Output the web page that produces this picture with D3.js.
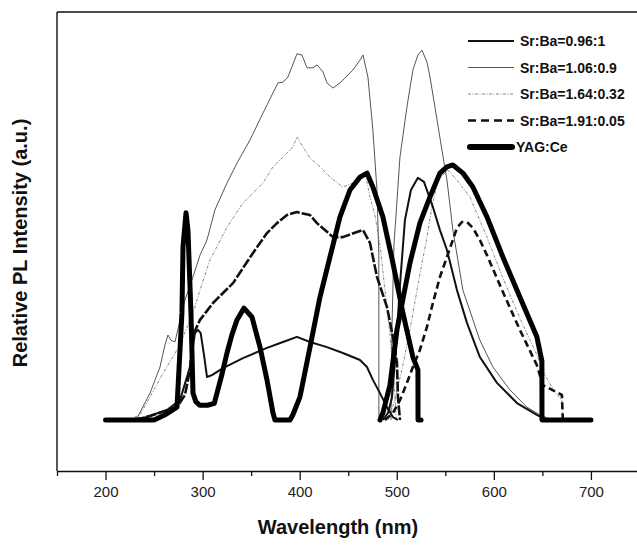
<!DOCTYPE html>
<html>
<head>
<meta charset="utf-8">
<script src="https://cdn.jsdelivr.net/npm/d3@7"></script>
<style>
  body { margin: 0; background: #fff; }
  #chart { width: 637px; height: 545px; }
  text { font-family: "Liberation Sans", Arial, sans-serif; }
  .tick-label { font-size: 15px; fill: #222; }
  .axis-title { font-size: 20px; font-weight: bold; fill: #111; }
  .legend-label { font-size: 14px; font-weight: bold; fill: #111; }
</style>
</head>
<body>
<div id="chart"></div>
<script>
// chart static params
const chart_width = 637;
const chart_height = 545;
const x_label = 'Wavelength (nm)';
const y_label = 'Relative PL Intensity (a.u.)';

// tick values (nm)
const majorTicks = [200, 300, 400, 500, 600, 700];
const minorTicks = [150, 250, 350, 450, 550, 650, 750];

// series names (legend order)
const seriesNames = ['Sr:Ba=0.96:1', 'Sr:Ba=1.06:0.9', 'Sr:Ba=1.64:0.32', 'Sr:Ba=1.91:0.05', 'YAG:Ce'];

// spectra: [wavelength nm, intensity a.u.], excitation + emission parts
const exc096 = [[221,0],[238.6,0.5],[263.3,2.7],[276.7,5.4],[287,14.4],[292.1,23.6],[295.2,24.5],[298,23.6],[301.4,17.7],[304.5,11.7],[309.6,12.2],[321,14.1],[341.6,16.8],[366.3,19.6],[382.8,21.2],[397.2,22.6],[410.6,21.2],[428.1,19.8],[444.5,18.2],[462.1,16.3],[469.3,14.4],[475.4,10.9],[482.7,7.3],[489.9,3.5],[496,0.8],[501,0]];
const em096 = [[485.7,0],[490.9,1.9],[495,6],[499.1,19],[503.3,36.7],[508.4,54.3],[514.6,62.5],[521.8,65.8],[528,64.7],[537.2,57.9],[544.5,51.6],[551.7,46.2],[562,35.3],[572.3,26.4],[585.6,17.1],[603.2,10.1],[623.8,4.6],[644.3,1.4],[654.6,0]];

const exc106 = [[220,0],[232.4,0.5],[245.8,7.3],[256.1,14.4],[261.2,20.4],[264.3,23.1],[267.4,21.7],[271.5,21.2],[281.8,32.6],[290.1,38.9],[297.3,44.8],[304.5,48.9],[312.7,57.1],[325.1,64.4],[335.4,69.8],[348.8,76.1],[362.2,83.4],[371.4,88.3],[377.6,91.6],[382.8,91.8],[387.9,93.2],[397.2,99.5],[402.3,99.2],[407.5,95.7],[413.7,95.7],[417.8,96.5],[424,94.6],[428.1,91.6],[434.3,90.2],[441.5,91.6],[454.8,95.1],[462.1,97.8],[465.2,99.2],[470.3,93.2],[475.4,78.8],[479.6,62.5],[481.5,45],[481.6,0]];
const em106 = [[494,0],[495,24.5],[497.1,47.6],[503.3,71.5],[510.5,85.1],[516.6,95.1],[521.8,99.2],[525.9,100.5],[531.1,97.3],[534.2,93.2],[539.3,85.1],[546.5,73.4],[551.7,65.2],[557.8,51.6],[568.1,35.3],[585.6,21.7],[599,14.4],[616.5,8.2],[634,3.5],[647.4,1.4],[659.8,0]];

const exc164 = [[223,0],[235.5,1.4],[245.8,6.3],[261.2,13.6],[276.7,20.4],[287,27.2],[292.1,30.7],[297.3,35.3],[307.6,43.5],[325.1,52.4],[341.6,59],[351.9,61.7],[362.2,64.4],[372.5,68.8],[382.8,71.5],[393.1,74.2],[397.2,76.9],[400.3,75.5],[410.6,71.2],[420.9,68.8],[431.2,66],[444.5,63.3],[454.8,64.4],[467.2,67.4],[472.4,60.6],[477.5,55.7],[482.7,47.6],[487.8,35.3],[493,23.1],[497.1,10.9],[499.5,0]];
const em164 = [[490.9,0],[498.1,5.4],[506.3,14.9],[513.6,24.5],[521.8,36.7],[531.1,49.7],[536.2,57.9],[542.4,65.2],[552.7,67.9],[562,65.2],[575.4,60.6],[592.9,49.7],[609.3,38.6],[626.8,27.7],[644.3,17.7],[652.6,12.2],[662.9,7.6],[670.1,5.4],[671.1,0]];

const exc191 = [[230.3,0],[245.8,1.1],[273.6,3.5],[281.8,6.8],[287,13.6],[290.1,23.1],[297.3,27.2],[310.7,31.8],[331.3,37.2],[351.9,45.4],[366.3,50.8],[376.6,53.5],[386.9,55.7],[397.2,56.5],[410.6,55.7],[417.8,53.5],[434.3,49.7],[444.5,49.7],[459,51.1],[465.2,51.6],[472.4,48.1],[479.6,38.9],[489.9,30.7],[496,22.6],[500.2,15.5],[501.2,6.3],[503.3,0]];
const em191 = [[487.8,0],[496,1.9],[503.3,5.4],[510.5,10.1],[516.6,14.4],[523.8,19],[531.1,25.3],[537.2,31.8],[544.5,38.9],[551.7,44.3],[562,52.2],[567.1,53.8],[572.3,53.8],[578.4,52.2],[585.6,48.9],[592.9,44.8],[609.3,34.8],[626.8,24.5],[644.3,14.9],[650.5,9.5],[670.1,6.8],[671.1,0]];

const yagExc = [[200,0],[250,0],[262,1.5],[273.6,3.5],[278.7,29.1],[279.8,47],[282.9,56.3],[284.9,51.6],[288,29.1],[290.1,7.3],[293,5],[297,4],[305,4],[312,4.5],[314.8,7.3],[320,12.5],[325.1,18.2],[330,23],[335.4,27.2],[342.6,30.4],[350.8,28],[359.1,19.8],[366.3,10.9],[372.5,1.9],[374.5,0],[390,0],[393.1,1.5],[400.3,6.3],[410.6,19.8],[420.9,33.4],[431.2,44.3],[441.5,55.2],[451.8,62.5],[462.1,66],[469.3,67.1],[475.4,63.3],[485.7,55.2],[496,42.7],[506.3,29.1],[516.6,17.1],[521.8,13.6],[521.9,0],[525,0]];
const yagEm = [[482.7,0],[485.7,1.9],[493,9.5],[500.2,24.5],[513.6,42.7],[523.8,53.5],[534.2,60.6],[544.5,67.1],[551.7,68.8],[557.8,69.3],[568.1,67.1],[578.4,63.3],[592.9,55.2],[609.3,44.3],[626.8,33.4],[644.3,22.6],[649.5,16],[649.6,0],[700,0]];

// line styles per series (dash given for [excitation, emission])
const styles = {
  'Sr:Ba=0.96:1':    {stroke: '#111', width: 2,   dash: [null, null],                   legendDash: null,          cap: 'butt'},
  'Sr:Ba=1.06:0.9':  {stroke: '#555', width: 1,   dash: [null, null],                   legendDash: null,          cap: 'butt'},
  'Sr:Ba=1.64:0.32': {stroke: '#888', width: 1,   dash: ['3,1.5,1,1.5', '3,1.5,1,1.5'], legendDash: '3,1.5,1,1.5', cap: 'butt'},
  'Sr:Ba=1.91:0.05': {stroke: '#111', width: 2.6, dash: ['10,2', '7,4'],                legendDash: '8,5',         cap: 'butt'},
  'YAG:Ce':          {stroke: '#000', width: 5,   dash: [null, null],                   legendDash: null,          cap: 'round'}
};
const seriesData = {
  'Sr:Ba=0.96:1': [exc096, em096],
  'Sr:Ba=1.06:0.9': [exc106, em106],
  'Sr:Ba=1.64:0.32': [exc164, em164],
  'Sr:Ba=1.91:0.05': [exc191, em191],
  'YAG:Ce': [yagExc, yagEm]
};

// plot frame
const margin = {top: 12, left: 57, bottom: 74};
const plot_right = 688;   // frame continues past the right edge of the picture
const plot_bottom = chart_height - margin.bottom;

const svg = d3.select('#chart')
  .append('svg')
    .attr('width', chart_width)
    .attr('height', chart_height);

const x = d3.scaleLinear().domain([150, 800]).range([margin.left, plot_right]);
const y = d3.scaleLinear().domain([-13.86, 110.87]).range([plot_bottom, margin.top]);

// top border + left axis line
svg.append('line')
  .attr('x1', margin.left).attr('x2', plot_right)
  .attr('y1', margin.top).attr('y2', margin.top)
  .attr('stroke', '#111').attr('stroke-width', 1.4);
svg.append('line')
  .attr('x1', margin.left).attr('x2', margin.left)
  .attr('y1', margin.top).attr('y2', plot_bottom)
  .attr('stroke', '#111').attr('stroke-width', 1.4);

// x axis, major ticks with labels
const xAxis = svg.append('g')
  .attr('transform', `translate(0,${plot_bottom})`)
  .call(d3.axisBottom(x).tickValues(majorTicks).tickSize(9).tickPadding(6).tickSizeOuter(0));
xAxis.select('.domain').attr('stroke', '#111').attr('stroke-width', 1.5);
xAxis.selectAll('.tick line').attr('stroke', '#111').attr('stroke-width', 1.3);
xAxis.selectAll('.tick text').attr('class', 'tick-label').attr('font-family', null).attr('font-size', null);

// minor ticks
svg.append('g')
  .attr('transform', `translate(0,${plot_bottom})`)
  .call(d3.axisBottom(x).tickValues(minorTicks).tickSize(5).tickFormat(''))
  .call(g => g.select('.domain').remove())
  .selectAll('.tick line').attr('stroke', '#111').attr('stroke-width', 1.3);

// axis titles
svg.append('text')
  .attr('class', 'axis-title')
  .attr('text-anchor', 'middle')
  .attr('transform', `translate(27, 243) rotate(-90)`)
  .text(y_label);
svg.append('text')
  .attr('class', 'axis-title')
  .attr('text-anchor', 'middle')
  .attr('x', 338)
  .attr('y', 534)
  .text(x_label);

// curves
const line = d3.line().x(d => x(d[0])).y(d => y(d[1]));
const curveArea = svg.append('g');
const drawOrder = ['Sr:Ba=1.64:0.32', 'Sr:Ba=1.06:0.9', 'Sr:Ba=0.96:1', 'Sr:Ba=1.91:0.05', 'YAG:Ce'];
drawOrder.forEach(name => {
  const st = styles[name];
  curveArea.selectAll(null)
    .data(seriesData[name])
    .enter()
    .append('path')
      .attr('d', line)
      .attr('fill', 'none')
      .attr('stroke', st.stroke)
      .attr('stroke-width', st.width)
      .attr('stroke-dasharray', (d, i) => st.dash[i])
      .attr('stroke-linecap', st.cap)
      .attr('stroke-linejoin', 'round');
});

// legend
const legend = svg.append('g').attr('transform', 'translate(468, 41)');
const legendRow = legend.selectAll('g')
  .data(seriesNames)
  .enter()
  .append('g')
    .attr('transform', (d, i) => `translate(0, ${i * 26.5})`);
legendRow.append('line')
  .attr('x1', d => styles[d].cap === 'round' ? 2 : 0)
  .attr('x2', d => styles[d].cap === 'round' ? 44 : 46)
  .attr('stroke', d => styles[d].stroke)
  .attr('stroke-width', d => d === 'YAG:Ce' ? 6 : styles[d].width)
  .attr('stroke-dasharray', d => styles[d].legendDash)
  .attr('stroke-linecap', d => styles[d].cap);
legendRow.append('text')
  .attr('class', 'legend-label')
  .attr('x', d => d === 'YAG:Ce' ? 48 : 52)
  .attr('dy', '0.36em')
  .text(d => d);
</script>
</body>
</html>
